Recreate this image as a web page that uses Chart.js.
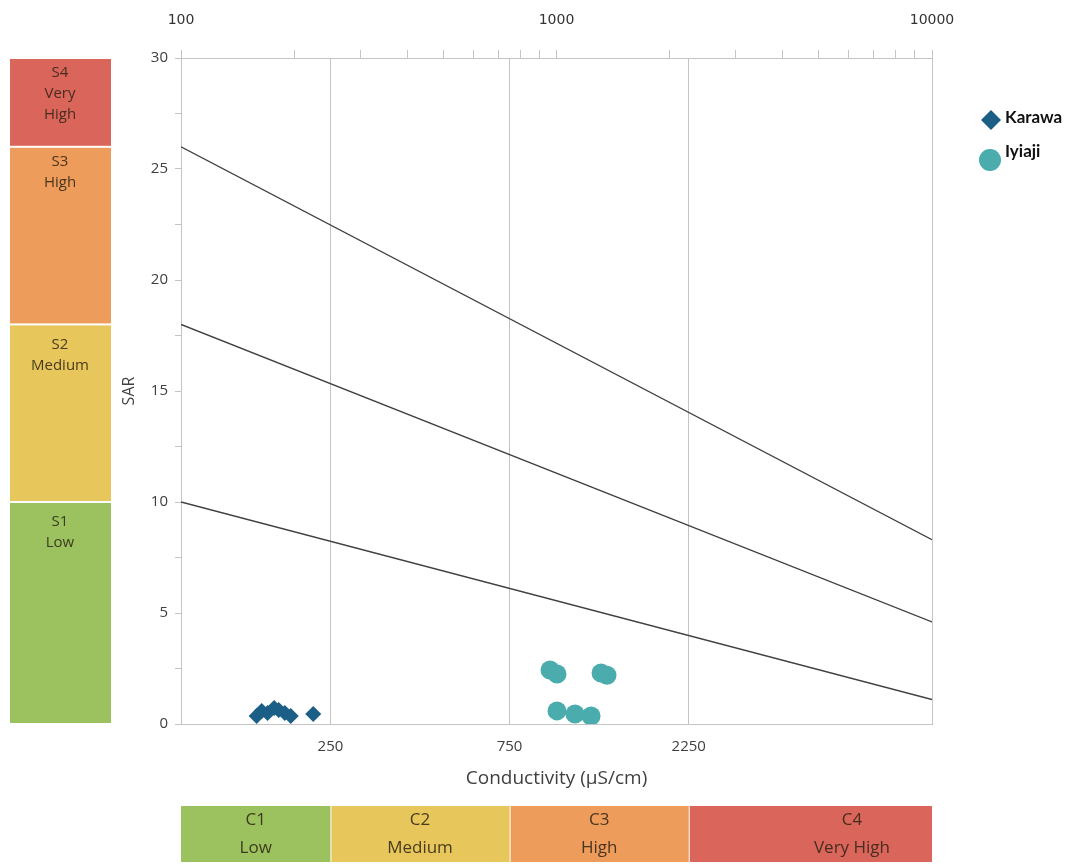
<!DOCTYPE html>
<html>
<head>
<meta charset="utf-8">
<script src="https://cdn.jsdelivr.net/npm/chart.js@4.4.1/dist/chart.umd.min.js"></script>
<style>
  html, body { margin: 0; padding: 0; background: #fff; }
</style>
</head>
<body>
<canvas id="myChart" width="1081" height="865"></canvas>
<script>
// sample points (EC in uS/cm, SAR)
const karawaEC = [159, 164, 170, 177, 182, 189, 196, 225];
const karawaSAR = [0.36, 0.59, 0.5, 0.72, 0.63, 0.5, 0.36, 0.45];
const iyiajiEC = [961, 1003, 1314, 1363, 1003, 1120, 1236];
const iyiajiSAR = [2.43, 2.25, 2.3, 2.2, 0.59, 0.45, 0.36];

// sodium hazard boundary lines, from EC 100 to EC 10000
const hazardEC = [100, 10000];
const hazardLow = [10, 1.1];
const hazardMid = [18, 4.6];
const hazardHigh = [26, 8.3];

// axis ticks
const ecGridTicks = [250, 750, 2250];
const topTickLabels = [100, 1000, 10000];
const sarLabelStep = 5;

// classification bands
const sBandEdges = [0, 10, 18, 26, 30];
const sBandLabels = [['S1', 'Low'], ['S2', 'Medium'], ['S3', 'High'], ['S4', 'Very', 'High']];
const cBandEdges = [100, 250, 750, 2250, 10000];
const cBandLabels = [['C1', 'Low'], ['C2', 'Medium'], ['C3', 'High'], ['C4', 'Very High']];
const bandColors = ['#9cc25f', '#e7c65b', '#ee9c5b', '#da655b'];

const toPoints = (xs, ys) => xs.map((x, i) => ({ x: x, y: ys[i] }));
const lineSet = (ys) => ({
  data: toPoints(hazardEC, ys),
  showLine: true,
  borderColor: '#404040',
  borderWidth: 1.4,
  pointRadius: 0,
  fill: false
});

const gray = '#c4c4c4';
const textCol = '#404040';

const bandsPlugin = {
  id: 'bands',
  afterDraw(chart) {
    const ctx = chart.ctx;
    const y = chart.scales.y, x = chart.scales.x;
    ctx.save();
    ctx.textAlign = 'center';
    ctx.textBaseline = 'middle';
    // S bands on the left
    ctx.font = '15px "Open Sans"';
    for (let i = 0; i < sBandLabels.length; i++) {
      const top = y.getPixelForValue(sBandEdges[i + 1]);
      const bot = y.getPixelForValue(sBandEdges[i]);
      ctx.fillStyle = bandColors[i];
      ctx.fillRect(10, top + 1, 101, bot - top - 2);
      ctx.fillStyle = 'rgba(45,35,20,0.85)';
      sBandLabels[i].forEach((t, k) => ctx.fillText(t, 60, top + (i < 2 ? 20 : 15) + k * 21));
    }
    // C bands underneath
    ctx.font = '17px "Open Sans"';
    for (let i = 0; i < cBandLabels.length; i++) {
      const l = x.getPixelForValue(cBandEdges[i]);
      const r = x.getPixelForValue(cBandEdges[i + 1]);
      ctx.fillStyle = bandColors[i];
      ctx.fillRect(l + (i ? 1 : 0), 806, r - l - (i ? 1 : 0), 56);
      ctx.fillStyle = 'rgba(45,35,20,0.85)';
      const cx = i === 3 ? r - 80 : (l + r) / 2;
      cBandLabels[i].forEach((t, k) => ctx.fillText(t, cx, 820 + k * 28));
    }
    // right border of the plot
    const a = chart.chartArea;
    ctx.strokeStyle = gray;
    ctx.lineWidth = 1;
    ctx.beginPath();
    ctx.moveTo(a.right + 0.5, a.top);
    ctx.lineTo(a.right + 0.5, a.bottom);
    ctx.stroke();
    // legend
    ctx.textAlign = 'left';
    ctx.font = 'bold 17px Lato';
    chart.data.datasets.slice(0, 2).forEach((ds, i) => {
      const cx = 991, cy = 120 + i * 40;
      ctx.fillStyle = ds.backgroundColor;
      ctx.beginPath();
      if (ds.pointStyle === 'rectRot') {
        ctx.moveTo(cx, cy - 10); ctx.lineTo(cx + 10, cy);
        ctx.lineTo(cx, cy + 10); ctx.lineTo(cx - 10, cy);
        ctx.closePath();
      } else {
        ctx.arc(cx - 1, cy, 11, 0, Math.PI * 2);
      }
      ctx.fill();
      ctx.fillStyle = '#111';
      ctx.fillText(ds.label, 1005, cy - 2 - i * 6);
    });
    ctx.restore();
  }
};

const ctx = document.getElementById('myChart').getContext('2d');
const myChart = new Chart(ctx, {
  type: 'scatter',
  data: {
    datasets: [
      {
        label: 'Karawa',
        data: toPoints(karawaEC, karawaSAR),
        pointStyle: 'rectRot',
        pointRadius: 8,
        backgroundColor: '#1b5e86',
        borderColor: '#1b5e86',
        borderWidth: 0
      },
      {
        label: 'Iyiaji',
        data: toPoints(iyiajiEC, iyiajiSAR),
        pointStyle: 'circle',
        pointRadius: 9.5,
        backgroundColor: '#4aacac',
        borderColor: '#4aacac',
        borderWidth: 0
      },
      lineSet(hazardLow),
      lineSet(hazardMid),
      lineSet(hazardHigh)
    ]
  },
  options: {
    responsive: false,
    animation: false,
    events: [],
    layout: { padding: { top: 0, left: 116, right: 149, bottom: 73 } },
    plugins: { legend: { display: false }, tooltip: { enabled: false } },
    scales: {
      x: {
        type: 'logarithmic',
        position: 'bottom',
        min: 100,
        max: 10000,
        afterBuildTicks: (s) => { s.ticks = ecGridTicks.map(v => ({ value: v })); },
        afterFit: (s) => { s.height = 68; },
        ticks: {
          autoSkip: false,
          maxRotation: 0,
          padding: 14,
          color: textCol,
          font: { family: 'Open Sans', size: 15 },
          callback: (v) => String(v)
        },
        grid: { color: gray, drawTicks: false, lineWidth: 1 },
        border: { color: gray },
        title: {
          display: true,
          text: 'Conductivity (µS/cm)',
          color: textCol,
          font: { family: 'Open Sans', size: 19 },
          padding: { top: 4, bottom: 2 }
        }
      },
      x2: {
        type: 'logarithmic',
        position: 'top',
        min: 100,
        max: 10000,
        afterBuildTicks: (s) => {
          const t = [];
          for (let d = 100; d < 10000; d *= 10) {
            for (let k = 1; k < 10; k++) t.push({ value: k * d });
          }
          t.push({ value: 10000 });
          s.ticks = t;
        },
        afterFit: (s) => { s.height = 58; },
        ticks: {
          autoSkip: false,
          maxRotation: 0,
          padding: 21,
          color: '#333',
          font: { family: 'DejaVu Sans', size: 14 },
          callback: (v) => topTickLabels.includes(v) ? String(v) : ''
        },
        grid: { drawOnChartArea: false, tickLength: 8, color: gray },
        border: { color: gray }
      },
      y: {
        min: 0,
        max: 30,
        afterFit: (s) => { s.width = 65; },
        ticks: {
          stepSize: sarLabelStep / 2,
          padding: 7,
          color: textCol,
          font: { family: 'Open Sans', size: 15 },
          callback: (v) => v % sarLabelStep === 0 ? String(v) : ''
        },
        grid: { drawOnChartArea: false, tickLength: 6, color: gray },
        border: { color: gray },
        title: {
          display: true,
          text: 'SAR',
          color: textCol,
          font: { family: 'Open Sans', size: 16 },
          padding: { top: 4, bottom: 4 }
        }
      }
    }
  },
  plugins: [bandsPlugin]
});
</script>
</body>
</html>
